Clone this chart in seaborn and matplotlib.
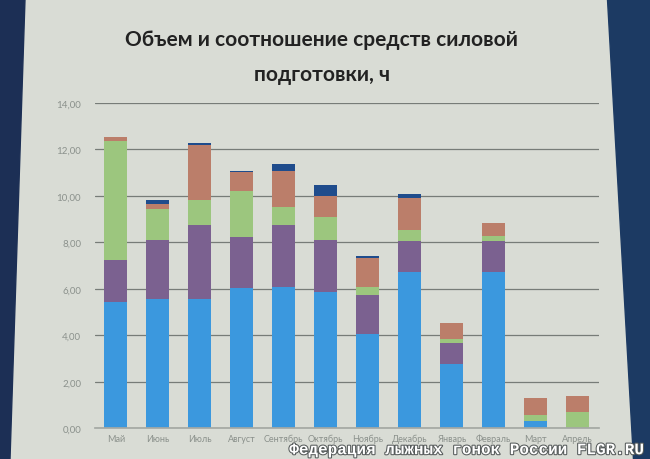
import matplotlib
matplotlib.use("Agg")
import matplotlib.pyplot as plt
import matplotlib.patheffects as pe
from matplotlib.patches import Polygon
from matplotlib.font_manager import FontProperties, findfont
from matplotlib.ticker import FuncFormatter, MultipleLocator
import numpy as np
import pandas as pd
import seaborn as sns

# ---- data (hours) ----
months = ["Май", "Июнь", "Июль", "Август", "Сентябрь", "Октябрь",
          "Ноябрь", "Декабрь", "Январь", "Февраль", "Март", "Апрель"]
series_blue = [5.44, 5.57, 5.55, 6.05, 6.08, 5.88, 4.05, 6.72, 2.77, 6.74, 0.30, 0.00]
series_purple = [1.81, 2.54, 3.18, 2.16, 2.65, 2.24, 1.68, 1.33, 0.90, 1.33, 0.00, 0.00]
series_green = [5.10, 1.33, 1.09, 1.98, 0.81, 0.98, 0.33, 0.48, 0.19, 0.20, 0.27, 0.68]
series_orange = [0.17, 0.19, 2.36, 0.83, 1.52, 0.91, 1.26, 1.40, 0.67, 0.58, 0.71, 0.70]
series_navy = [0.00, 0.18, 0.10, 0.07, 0.31, 0.45, 0.10, 0.16, 0.00, 0.00, 0.00, 0.00]
title_text = "Объем и соотношение средств силовой\nподготовки, ч"
watermark = "Федерация лыжных гонок России FLGR.RU"

series = [series_blue, series_purple, series_green, series_orange, series_navy]
colors = ["#3b98de", "#7b6190", "#9cc67e", "#bb7e6a", "#1f4c8c"]

df = pd.DataFrame({"month": months})
cum = np.zeros(len(months))
cum_cols = []
for i, s in enumerate(series):
    cum = cum + np.array(s)
    df[f"cum{i}"] = cum
    cum_cols.append(f"cum{i}")

bg = "#d9dcd5"
sns.set_theme(style="white")
plt.rcParams["font.family"] = ["Lato", "DejaVu Sans"]
plt.rcParams["font.monospace"] = ["Liberation Mono", "DejaVu Sans Mono"]

fig = plt.figure(figsize=(6.5, 4.6), dpi=100, facecolor=bg)
ax = fig.add_axes([0.146, 0.067, 0.775, 0.707])
ax.set_facecolor(bg)

# stacked bars: draw cumulative totals from tallest to shortest
for col, c in reversed(list(zip(cum_cols, colors))):
    sns.barplot(data=df, x="month", y=col, color=c, saturation=1,
                width=0.55, ax=ax, order=months, linewidth=0, edgecolor="none")

ax.set_ylim(0, 14)
ax.set_xlim(-0.5, 11.5)
ax.yaxis.set_major_locator(MultipleLocator(2))
ax.yaxis.set_major_formatter(FuncFormatter(lambda v, p: f"{v:.2f}".replace(".", ",")))
ax.grid(axis="y", color="#777c78", linewidth=0.9)
ax.set_axisbelow(True)
for s in ["top", "right", "left"]:
    ax.spines[s].set_visible(False)
ax.spines["bottom"].set_color("#a5a9a4")
ax.set_xlabel("")
ax.set_ylabel("")
ax.tick_params(axis="y", colors="#8b918c", labelsize=7, length=0, pad=10)
ax.tick_params(axis="x", colors="#8b918c", labelsize=6.5, length=0, pad=4)

fig.text(0.495, 0.935, title_text, ha="center", va="top", fontsize=15,
         fontweight="bold", color="#222222", linespacing=1.95)

fig.text(0.993, 0.004, watermark, ha="right", va="bottom",
         fontfamily="monospace", fontweight="bold", fontsize=11.5, color="white",
         path_effects=[pe.withStroke(linewidth=1.5, foreground="#555a5a")])

# dark projector-screen edges
W, H = 650.0, 460.0
left_edge = Polygon([(0, 1), (25 / W, 1), (10 / W, 0), (0, 0)],
                    closed=True, transform=fig.transFigure, color="#1c2f55", zorder=-1)
right_edge = Polygon([(607 / W, 1), (1, 1), (1, 0), (633 / W, 0)],
                     closed=True, transform=fig.transFigure, color="#1c3a63", zorder=-1)
fig.patches.extend([left_edge, right_edge])

fig.savefig("out.png", dpi=100, facecolor=bg)
